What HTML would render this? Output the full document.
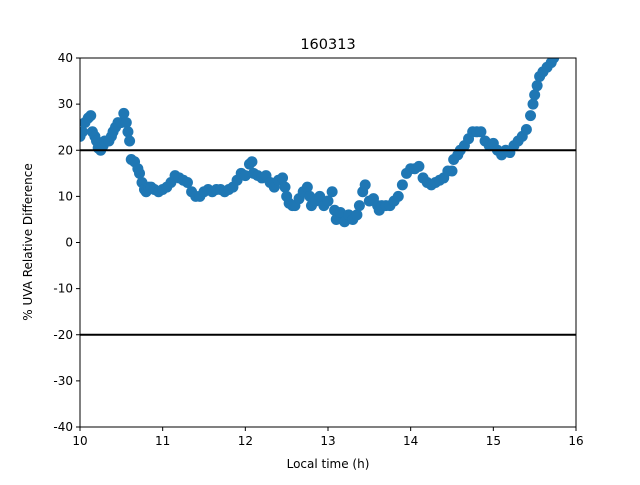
<!DOCTYPE html>
<html><head><meta charset="utf-8"><style>
body{margin:0;background:#fff;font-family:"Liberation Sans","DejaVu Sans",sans-serif;}
svg text{font-family:"DejaVu Sans","Liberation Sans",sans-serif;}
</style></head><body>
<svg id="chart" width="640" height="480" viewBox="0 0 640 480" xmlns="http://www.w3.org/2000/svg">
<rect width="640" height="480" fill="#fff"/>
<g id="marks"></g>
<g id="axes"></g>
</svg>
<script>
const times=[10.0,10.03,10.06,10.1,10.13,10.15,10.18,10.2,10.22,10.25,10.28,10.3,10.35,10.38,10.4,10.43,10.46,10.5,10.53,10.56,10.58,10.6,10.62,10.66,10.7,10.72,10.75,10.78,10.8,10.83,10.86,10.9,10.95,11.0,11.05,11.1,11.15,11.2,11.25,11.3,11.35,11.4,11.45,11.5,11.55,11.6,11.65,11.7,11.75,11.8,11.85,11.9,11.95,12.0,12.05,12.08,12.1,12.15,12.2,12.25,12.3,12.35,12.4,12.45,12.48,12.5,12.53,12.57,12.6,12.65,12.7,12.75,12.78,12.8,12.85,12.9,12.95,13.0,13.05,13.08,13.1,13.15,13.2,13.25,13.3,13.35,13.38,13.42,13.45,13.5,13.55,13.6,13.62,13.65,13.7,13.75,13.8,13.85,13.9,13.95,14.0,14.05,14.1,14.15,14.2,14.25,14.3,14.35,14.4,14.45,14.5,14.52,14.57,14.6,14.65,14.7,14.75,14.8,14.85,14.9,14.95,15.0,15.05,15.1,15.15,15.2,15.25,15.3,15.35,15.4,15.45,15.48,15.5,15.53,15.56,15.6,15.65,15.7,15.73];
const values=[23,24,26,27,27.5,24,23,22,20.5,20,21,22,22,23,24,25,26,26,28,26,24,22,18,17.5,16,15,13,11.5,11,12,12,11.5,11,11.5,12,13,14.5,14,13.5,13,11,10,10,11,11.5,11,11.5,11.5,11,11.5,12,13.5,15,14.5,17,17.5,15,14.5,14,14.5,13,12,13.5,14,12,10,8.5,8,8,9.5,11,12,10,8,9,10,8,9,11,7,5,6.5,4.5,6,5,6,8,11,12.5,9,9.5,8,7,8,8,8,9,10,12.5,15,16,16,16.5,14,13,12.5,13,13.5,14,15.5,15.5,18,19,20,21,22.5,24,24,24,22,21,21.5,20,19,20,19.5,21,22,23,24.5,27.5,30,32,34,36,37,38,39,40];
const xTicks=[10,11,12,13,14,15,16];
const yTicks=[-40,-30,-20,-10,0,10,20,30,40];
const hLines=[20,-20];
const L=80,R=576,T=58,B=427;
const X=t=>L+(t-10)/6*(R-L);
const Y=v=>B-(v+40)/80*(B-T);
const NS="http://www.w3.org/2000/svg";
const mk=(p,tag,a)=>{const e=document.createElementNS(NS,tag);for(const k in a)e.setAttribute(k,a[k]);p.appendChild(e);return e;};
const svg=document.getElementById('chart');
const marks=document.getElementById('marks');
const axes=document.getElementById('axes');
const clip=mk(svg,'clipPath',{id:'cp'});mk(clip,'rect',{x:L,y:T,width:R-L,height:B-T});
marks.setAttribute('clip-path','url(#cp)');
times.forEach((t,i)=>{const c=mk(marks,'circle',{cx:X(t),cy:Y(values[i]),r:5.5,fill:'#1f77b4'});

});
hLines.forEach(v=>{const l=mk(axes,'line',{x1:L,x2:R,y1:Y(v),y2:Y(v),stroke:'#000','stroke-width':2});

});
const fr=mk(axes,'rect',{x:L,y:T,width:R-L,height:B-T,fill:'none',stroke:'#000','stroke-width':1});


xTicks.forEach(t=>{mk(axes,'line',{x1:X(t),x2:X(t),y1:B,y2:B+4,stroke:'#000'});
const tx=mk(axes,'text',{x:X(t),y:B+18,'text-anchor':'middle','font-size':12});tx.textContent=t;

});
yTicks.forEach(v=>{mk(axes,'line',{x1:L-4,x2:L,y1:Y(v),y2:Y(v),stroke:'#000'});
const tx=mk(axes,'text',{x:L-7,y:Y(v)+4,'text-anchor':'end','font-size':12});tx.textContent=v;

});
const ti=mk(axes,'text',{x:328,y:49,'text-anchor':'middle','font-size':14.5});ti.textContent='160313';


const xl=mk(axes,'text',{x:328,y:468,'text-anchor':'middle','font-size':12});xl.textContent='Local time (h)';


const yl=mk(axes,'text',{x:32,y:242,'text-anchor':'middle','font-size':12,transform:'rotate(-90 32 242)'});yl.textContent='% UVA Relative Difference';


</script>
</body></html>
